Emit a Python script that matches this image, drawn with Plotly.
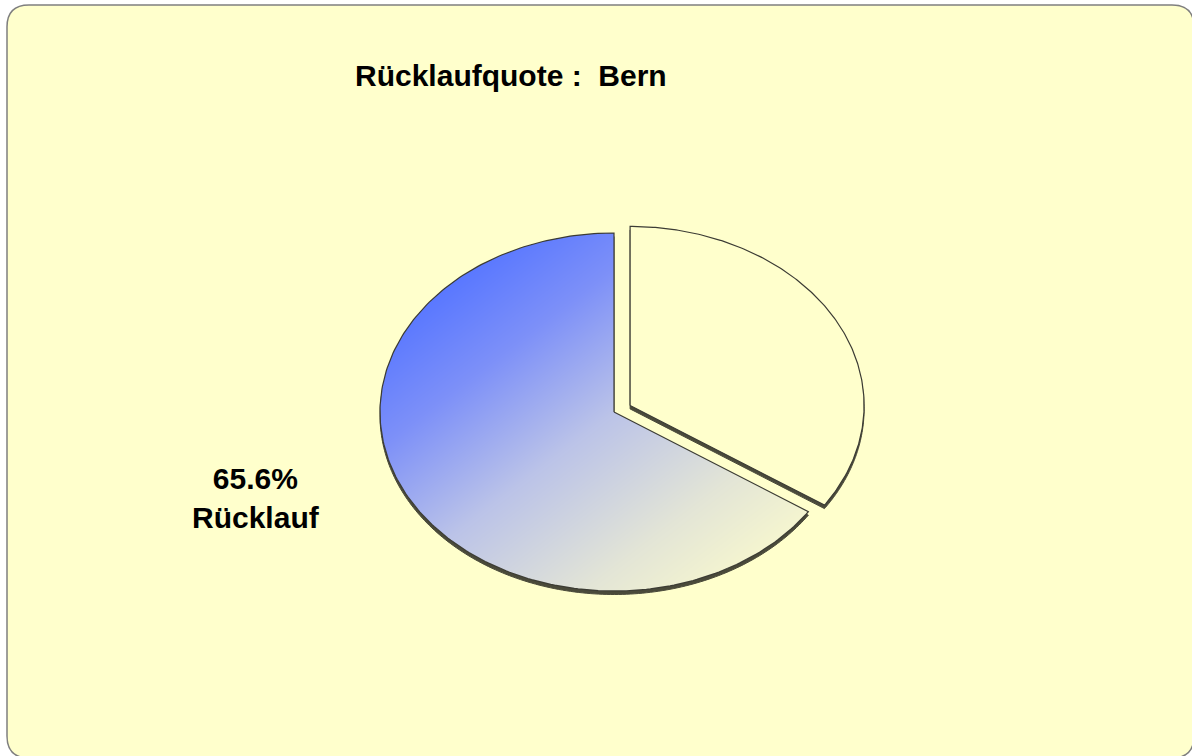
import math
import numpy as np
import plotly.graph_objects as go

# -------------------------
# Data
# -------------------------
categories = ["Kein Rücklauf", "Rücklauf"]
values = [34.4, 65.6]
explode = [0.078, 0.0]
title_text = "Rücklaufquote :  Bern"
shown_label = "Rücklauf"

# -------------------------
# Geometry / style (pixel space)
# -------------------------
W, H = 1192, 756
CX, CY = 614, 412          # pie centre
RX, RY = 234, 179          # tilted pie -> ellipse radii
DEPTH = 3.5                # visible thickness of the pie
BG = "#FFFFCC"
EDGE = "#3c3c34"
SIDE = "#4a4a3a"


def pt(cx, cy, th, r=1.0):
    t = math.radians(th)
    return cx + r * RX * math.sin(t), cy - r * RY * math.cos(t)


def slice_path(cx, cy, a0, a1, n=240):
    xs, ys = [cx], [cy]
    for k in range(n + 1):
        x, y = pt(cx, cy, a0 + (a1 - a0) * k / n)
        xs.append(x)
        ys.append(y)
    xs.append(cx)
    ys.append(cy)
    return xs, ys


fig = go.Figure()

# -------------------------
# Background card (first shape, below everything)
# -------------------------
r = 22
x0, y0, x1, y1 = 7, 5, 1194, 758
card = (f"M {x0 + r},{y0} L {x1 - r},{y0} Q {x1},{y0} {x1},{y0 + r} "
        f"L {x1},{y1 - r} Q {x1},{y1} {x1 - r},{y1} L {x0 + r},{y1} "
        f"Q {x0},{y1} {x0},{y1 - r} L {x0},{y0 + r} Q {x0},{y0} {x0 + r},{y0} Z")
fig.add_shape(type="path", path=card, fillcolor=BG, layer="below",
              line=dict(color="#7f7f7f", width=1.5))

# -------------------------
# Slice angles (clockwise from 12 o'clock)
# -------------------------
total = sum(values)
slices = []
cum = 0.0
for cat, v, ex in zip(categories, values, explode):
    a0 = cum
    a1 = cum + 360.0 * v / total
    mid = (a0 + a1) / 2
    ox, oy = pt(0, 0, mid, ex)
    slices.append(dict(cat=cat, v=v, a0=a0, a1=a1, cx=CX + ox, cy=CY + oy))
    cum = a1

# side faces (3D depth) as below-layer shapes so the heatmap sits on top
for s in slices:
    xs, ys = slice_path(s["cx"], s["cy"], s["a0"], s["a1"])
    path = "M " + " L ".join(f"{x:.2f},{y + DEPTH:.2f}" for x, y in zip(xs, ys)) + " Z"
    fig.add_shape(type="path", path=path, fillcolor=SIDE, layer="below",
                  line=dict(color=SIDE, width=1))

for s in slices:
    xs, ys = slice_path(s["cx"], s["cy"], s["a0"], s["a1"])
    if s["cat"] == shown_label:
        # diagonal gradient fill via masked heatmap
        gx = np.arange(int(s["cx"] - RX) - 1, int(s["cx"] + RX) + 2) + 0.5
        gy = np.arange(int(s["cy"] - RY) - 1, int(s["cy"] + RY) + 2) + 0.5
        X, Y = np.meshgrid(gx, gy)
        dx = (X - s["cx"]) / RX
        dy = (Y - s["cy"]) / RY
        ang = np.degrees(np.arctan2(dx, -dy)) % 360
        inside = (dx ** 2 + dy ** 2 <= 1) & (ang >= s["a0"]) & (ang <= s["a1"])
        t = ((X - (s["cx"] - RX)) / (2 * RX) + (Y - (s["cy"] - RY)) / (2 * RY)) / 2
        z = np.where(inside, t, np.nan)
        fig.add_trace(go.Heatmap(
            x=gx, y=gy, z=z, zmin=0, zmax=1, showscale=False,
            colorscale=[[0, "#486aff"], [0.15, "#5a78ff"], [0.3, "#7d90f8"],
                        [0.5, "#bbc3e8"], [0.72, "#e3e5d6"], [0.88, "#f8f8ce"],
                        [1, "#ffffcc"]],
            hoverinfo="skip"))
        fig.add_trace(go.Scatter(
            x=xs, y=ys, mode="lines", line=dict(color=EDGE, width=1.2),
            hoverinfo="skip", showlegend=False))
    else:
        fig.add_trace(go.Scatter(
            x=xs, y=ys, mode="lines", fill="toself", fillcolor=BG,
            line=dict(color=EDGE, width=1.2),
            hoverinfo="skip", showlegend=False))

# -------------------------
# Texts
# -------------------------
font = dict(family="Liberation Sans, Arial, sans-serif",
            size=30, color="black", weight="bold")
fig.add_annotation(x=511, y=75, text=title_text, showarrow=False, font=font)

pct = next(s["v"] for s in slices if s["cat"] == shown_label)
fig.add_annotation(x=256, y=498, text=f"{pct:.1f}%<br>{shown_label}",
                   showarrow=False, font=font)

# -------------------------
# Layout
# -------------------------
fig.update_xaxes(range=[0, W], visible=False, fixedrange=True)
fig.update_yaxes(range=[H, 0], visible=False, fixedrange=True)
fig.update_layout(
    width=W, height=H,
    margin=dict(l=0, r=0, t=0, b=0),
    plot_bgcolor="white",
    paper_bgcolor="white",
    showlegend=False
)

fig.write_html("out.html",
               config=dict(displayModeBar=False),
               post_script="document.body.style.margin='0';"
                           "document.body.style.overflow='hidden';")
